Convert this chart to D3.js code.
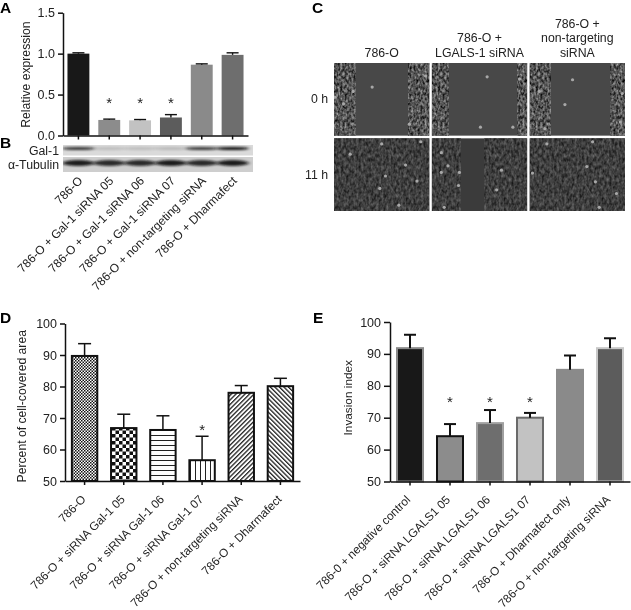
<!DOCTYPE html>
<html>
<head>
<meta charset="utf-8">
<script src="https://d3js.org/d3.v7.min.js"></script>
<style>
  html, body { margin: 0; padding: 0; background: #fff; }
  svg { display: block; filter: blur(0.3px); }
  text { font-family: "Liberation Sans", Arial, sans-serif; fill: #222; }
  .domain, .tick line { stroke: #111; stroke-width: 1.5px; }
</style>
</head>
<body>
<div id="chart"></div>
<script>
// Panel A
var catsA = ['786-O', '786-O + Gal-1 siRNA 05', '786-O + Gal-1 siRNA 06', '786-O + Gal-1 siRNA 07', '786-O + non-targeting siRNA', '786-O + Dharmafect'];
var valsA = [1.0, 0.19, 0.185, 0.22, 0.865, 0.985];
var errTopA = [1.01, 0.2, 0.195, 0.255, 0.875, 1.01];
var ticksA = [0, 0.5, 1.0, 1.5];
var starsA = [1, 2, 3];

// Panel B
var galBand = [0.8, 0.14, 0.14, 0.16, 0.78, 0.98];
var tubBand = [0.92, 0.85, 0.85, 0.92, 0.85, 0.92];

// Panel C
var colHeads = [['786-O'], ['786-O +', 'LGALS-1 siRNA'], ['786-O +', 'non-targeting', 'siRNA']];
var rowHeads = ['0 h', '11 h'];
// cell-covered stretches of each micrograph, percent of its width
var coveredTop = [[[0, 23], [78, 100]], [[0, 18], [90, 100]], [[0, 22], [85, 100]]];
var coveredBottom = [[[0, 100]], [[0, 30], [55, 100]], [[0, 100]]];
// bright round cells, percent of micrograph width and height
var spotsTop = [
  [[20, 39], [10, 56], [1, 47], [40, 33], [96, 18], [79, 84]],
  [[92, 22], [85, 88], [51, 88], [58, 19]],
  [[45, 23], [37, 57], [10, 39], [97, 42], [95, 81], [16, 90]]
];
var spotsBottom = [
  [[17, 22], [50, 8], [91, 5], [87, 59], [48, 69], [54, 52], [68, 92], [75, 37]],
  [[10, 20], [17, 38], [29, 47], [28, 65], [68, 71], [73, 44], [13, 95], [10, 47]],
  [[18, 8], [66, 5], [60, 39], [69, 60], [91, 76], [73, 95], [3, 48]]
];

// Panel D
var catsD = ['786-O', '786-O + siRNA Gal-1 05', '786-O + siRNA Gal-1 06', '786-O + siRNA Gal-1 07', '786-O + non-targeting siRNA', '786-O + Dharmafect'];
var valsD = [89.7, 66.8, 66.2, 56.6, 78, 80.1];
var errTopD = [93.6, 71.2, 70.7, 64.2, 80.3, 82.6];
var ticksD = [50, 60, 70, 80, 90, 100];
var starsD = [3];

// Panel E
var catsE = ['786-0 + negative control', '786-O + siRNA LGALS1 05', '786-O + siRNA LGALS1 06', '786-O + siRNA LGALS1 07', '786-O + Dharmafect only', '786-O + non-targeting siRNA'];
var valsE = [91.8, 64.2, 68.3, 70, 85, 91.8];
var errTopE = [96, 68, 72.4, 71.5, 89.5, 94.9];
var ticksE = [50, 60, 70, 80, 90, 100];
var starsE = [1, 2, 3];

var fillsA = ['#181818', '#8c8c8c', '#c2c2c2', '#5c5c5c', '#8a8a8a', '#6e6e6e'];
var fillsE = ['#181818', '#8c8c8c', '#6e6e6e', '#c2c2c2', '#8a8a8a', '#5c5c5c'];
var edgesE = ['#8a8a8a', '#111111', '#a0a0a0', '#6a6a6a', '#8a8a8a', '#c8c8c8'];

var width = 631,
    height = 610;

var svg = d3.select('#chart').append('svg')
  .attr('width', width)
  .attr('height', height);

var defs = svg.append('defs');

// Hatch fills of panel D.
function hatch(id, w, h, draw, rotate) {
  var p = defs.append('pattern')
    .attr('id', id)
    .attr('patternUnits', 'userSpaceOnUse')
    .attr('width', w)
    .attr('height', h);
  if (rotate) p.attr('patternTransform', 'rotate(' + rotate + ')');
  p.append('rect').attr('width', w).attr('height', h).attr('fill', '#fff');
  draw(p);
}
hatch('dots', 3, 3, function (p) {
  p.append('rect').attr('width', 1.5).attr('height', 1.5).attr('fill', '#111');
  p.append('rect').attr('x', 1.5).attr('y', 1.5).attr('width', 1.5).attr('height', 1.5).attr('fill', '#111');
});
hatch('checks', 7, 7, function (p) {
  p.append('rect').attr('width', 3.5).attr('height', 3.5).attr('fill', '#111');
  p.append('rect').attr('x', 3.5).attr('y', 3.5).attr('width', 3.5).attr('height', 3.5).attr('fill', '#111');
});
hatch('hlines', 5, 5, function (p) {
  p.append('rect').attr('width', 5).attr('height', 1).attr('fill', '#222');
});
hatch('vlines', 5, 5, function (p) {
  p.append('rect').attr('width', 1).attr('height', 5).attr('fill', '#222');
});
hatch('up', 3.2, 3.2, function (p) {
  p.append('rect').attr('width', 1.3).attr('height', 3.2).attr('fill', '#222');
}, 45);
hatch('down', 3.2, 3.2, function (p) {
  p.append('rect').attr('width', 1.3).attr('height', 3.2).attr('fill', '#222');
}, -45);
var fillsD = ['url(#dots)', 'url(#checks)', 'url(#hlines)', 'url(#vlines)', 'url(#up)', 'url(#down)'];

// Phase contrast grain for the micrographs, gray around the given level.
function grainFilter(id, gain, offset, freq) {
  var f = defs.append('filter').attr('id', id)
    .attr('x', 0).attr('y', 0).attr('width', 1).attr('height', 1)
    .attr('color-interpolation-filters', 'sRGB');
  f.append('feTurbulence')
    .attr('type', 'fractalNoise')
    .attr('baseFrequency', freq)
    .attr('numOctaves', 2)
    .attr('seed', 4);
  var row = gain + ' 0 0 0 ' + offset;
  f.append('feColorMatrix')
    .attr('values', row + '  ' + row + '  ' + row + '  0 0 0 0 1');
}
grainFilter('grainTop', 0.9, -0.12, '0.45 0.3');
grainFilter('grainBottom', 0.45, 0.02, '0.4 0.25');

defs.append('filter').attr('id', 'soft')
  .attr('x', '-20%').attr('y', '-100%').attr('width', '140%').attr('height', '300%')
  .append('feGaussianBlur').attr('stdDeviation', '2 0.8');

// Bar panel with its axes, error caps and asterisks.
function barPanel(o) {
  var x = d3.scaleBand().domain(o.cats).range([o.x0, o.x1]).paddingInner(o.pad).paddingOuter(o.pad / 2);
  var y = d3.scaleLinear().domain(o.domain).range([o.yBottom, o.yTop]);
  var g = svg.append('g');

  g.selectAll('.bar').data(o.vals).enter().append('rect')
    .attr('class', 'bar')
    .attr('x', function (d, i) { return x(o.cats[i]) + o.edge / 2; })
    .attr('width', x.bandwidth() - o.edge)
    .attr('y', function (d) { return y(d); })
    .attr('height', function (d) { return y(o.domain[0]) - y(d); })
    .attr('fill', function (d, i) { return o.fills[i]; })
    .attr('stroke', function (d, i) { return o.edges ? o.edges[i] : 'none'; })
    .attr('stroke-width', o.edge);

  var err = g.selectAll('.err').data(o.errTop).enter().append('g').attr('class', 'err')
    .attr('transform', function (d, i) { return 'translate(' + (x(o.cats[i]) + x.bandwidth() / 2) + ',0)'; });
  err.append('line')
    .attr('y1', function (d, i) { return y(o.vals[i]); })
    .attr('y2', function (d) { return y(d); })
    .attr('stroke', '#111').attr('stroke-width', o.errWidth);
  err.append('line')
    .attr('x1', -o.cap).attr('x2', o.cap)
    .attr('y1', function (d) { return y(d); })
    .attr('y2', function (d) { return y(d); })
    .attr('stroke', '#111').attr('stroke-width', o.errWidth);

  g.selectAll('.star').data(o.stars).enter().append('text')
    .attr('class', 'star')
    .attr('x', function (i) { return x(o.cats[i]) + x.bandwidth() / 2; })
    .attr('y', y(o.starLevel))
    .attr('text-anchor', 'middle')
    .attr('font-size', 15)
    .text('*');

  var yAxis = g.append('g')
    .attr('transform', 'translate(' + o.x0 + ',0)')
    .call(d3.axisLeft(y).tickValues(o.ticks).tickSize(o.tick).tickSizeOuter(0).tickPadding(3).tickFormat(o.format));
  yAxis.selectAll('text').attr('font-size', 12.5).style('font-family', null);

  var xAxis = g.append('g')
    .attr('transform', 'translate(0,' + o.yBottom + ')')
    .call(d3.axisBottom(x).tickSize(4).tickSizeOuter(0));
  xAxis.selectAll('text')
    .attr('font-size', o.labelSize)
    .attr('text-anchor', 'end')
    .attr('x', 0).attr('y', 0).attr('dy', 0)
    .attr('transform', 'translate(' + o.labelDx + ',' + o.labelDy + ') rotate(-45)');
  g.selectAll('.domain').attr('fill', 'none');

  g.append('text')
    .attr('transform', 'translate(' + o.titleX + ',' + ((o.yTop + o.yBottom) / 2 + o.titleShift) + ') rotate(-90)')
    .attr('text-anchor', 'middle')
    .attr('font-size', o.titleSize)
    .text(o.title);
}

barPanel({
  cats: catsA, vals: valsA, errTop: errTopA, ticks: ticksA, stars: starsA, starLevel: 0.33,
  domain: [0, 1.5], x0: 63, x1: 248, yBottom: 135.5, yTop: 12.7, pad: 0.29, edge: 0,
  fills: fillsA, cap: 6, errWidth: 1.4, tick: 5, format: d3.format('.1f'), labelSize: 12,
  labelDx: 5, labelDy: 46, titleX: 30, titleShift: 0.5, titleSize: 12.2, title: 'Relative expression'
});

barPanel({
  cats: catsD, vals: valsD, errTop: errTopD, ticks: ticksD, stars: starsD, starLevel: 64.5,
  domain: [50, 100], x0: 65, x1: 300, yBottom: 481, yTop: 323.5, pad: 0.3, edge: 2,
  fills: fillsD, edges: ['#111', '#111', '#111', '#111', '#111', '#111'], cap: 6.5, errWidth: 1.5, tick: 5, format: d3.format('d'), labelSize: 11.8,
  labelDx: 2, labelDy: 19, titleX: 26, titleShift: 4, titleSize: 12.2, title: 'Percent of cell-covered area'
});

barPanel({
  cats: catsE, vals: valsE, errTop: errTopE, ticks: ticksE, stars: starsE, starLevel: 73.5,
  domain: [50, 100], x0: 390, x1: 630, yBottom: 481.5, yTop: 322, pad: 0.3, edge: 2,
  fills: fillsE, edges: edgesE, cap: 6, errWidth: 2, tick: 6, format: d3.format('d'), labelSize: 11.8,
  labelDx: 1, labelDy: 19, titleX: 352, titleShift: -4, titleSize: 11.8, title: 'Invasion index'
});

// Panel B, blot strips under panel A.
var blotX = d3.scaleBand().domain(catsA).range([63, 248]).paddingInner(0.29).paddingOuter(0.145);
function blotRow(yTop, h, bg, vals, bandY, bandH, label) {
  svg.append('rect').attr('x', 63).attr('y', yTop).attr('width', 190).attr('height', h).attr('fill', bg);
  var clipId = 'clip' + yTop;
  defs.append('clipPath').attr('id', clipId).append('rect')
    .attr('x', 63).attr('y', yTop).attr('width', 190).attr('height', h);
  svg.append('g').attr('clip-path', 'url(#' + clipId + ')')
    .selectAll('ellipse').data(vals).enter().append('ellipse')
    .attr('cx', function (d, i) { return blotX(catsA[i]) + blotX.bandwidth() / 2; })
    .attr('cy', bandY)
    .attr('rx', 16)
    .attr('ry', bandH)
    .attr('fill', '#0c0c0c')
    .attr('opacity', function (d) { return d; })
    .attr('filter', 'url(#soft)');
  svg.append('text').attr('x', 59).attr('y', yTop + h / 2 + 4.5)
    .attr('text-anchor', 'end').attr('font-size', 12.3).text(label);
}
blotRow(145, 10.5, '#dadada', galBand, 148.5, 1.6, 'Gal-1');
blotRow(157, 15, '#cecece', tubBand, 163, 3, 'α-Tubulin');

// Panel C, micrographs.
var colX = d3.scaleBand().domain([0, 1, 2]).range([334, 625]).paddingInner(0.025);
var rowY = d3.scaleBand().domain([0, 1]).range([63, 211]).paddingInner(0.03);
var pctX = d3.scaleLinear().domain([0, 100]).range([0, colX.bandwidth()]);
var pctY = d3.scaleLinear().domain([0, 100]).range([0, rowY.bandwidth()]);

function micrograph(col, row, bg, grain, covered, spots) {
  var clipId = 'micro' + col + row;
  defs.append('clipPath').attr('id', clipId).append('rect')
    .attr('width', colX.bandwidth()).attr('height', rowY.bandwidth());
  var g = svg.append('g')
    .attr('transform', 'translate(' + colX(col) + ',' + rowY(row) + ')')
    .attr('clip-path', 'url(#' + clipId + ')');
  g.append('rect').attr('width', colX.bandwidth()).attr('height', rowY.bandwidth()).attr('fill', bg);
  g.selectAll('.cells').data(covered).enter().append('rect')
    .attr('class', 'cells')
    .attr('x', function (d) { return pctX(d[0]); })
    .attr('width', function (d) { return pctX(d[1]) - pctX(d[0]); })
    .attr('height', rowY.bandwidth())
    .attr('filter', 'url(#' + grain + ')');
  g.selectAll('.spot').data(spots).enter().append('circle')
    .attr('class', 'spot')
    .attr('cx', function (d) { return pctX(d[0]); })
    .attr('cy', function (d) { return pctY(d[1]); })
    .attr('r', 1.6)
    .attr('fill', '#a8a8a8');
}
colHeads.forEach(function (lines, c) {
  lines.forEach(function (line, i) {
    svg.append('text')
      .attr('x', colX(c) + colX.bandwidth() / 2)
      .attr('y', 56.5 - (lines.length - 1 - i) * 14.3)
      .attr('text-anchor', 'middle')
      .attr('font-size', 12.3)
      .text(line);
  });
  micrograph(c, 0, '#484848', 'grainTop', coveredTop[c], spotsTop[c]);
  micrograph(c, 1, '#3b3b3b', 'grainBottom', coveredBottom[c], spotsBottom[c]);
});
rowHeads.forEach(function (label, r) {
  svg.append('text')
    .attr('x', 328)
    .attr('y', rowY(r) + rowY.bandwidth() / 2 + 4)
    .attr('text-anchor', 'end')
    .attr('font-size', 12.3)
    .text(label);
});

// Panel letters.
var letters = [['A', 0, 13], ['B', 0, 148], ['C', 312, 13], ['D', 0, 323], ['E', 313, 323]];
svg.selectAll('.letter').data(letters).enter().append('text')
  .attr('class', 'letter')
  .attr('x', function (d) { return d[1]; })
  .attr('y', function (d) { return d[2]; })
  .attr('font-size', 15.5)
  .attr('font-weight', 'bold')
  .style('fill', '#000')
  .text(function (d) { return d[0]; });
</script>
</body>
</html>
